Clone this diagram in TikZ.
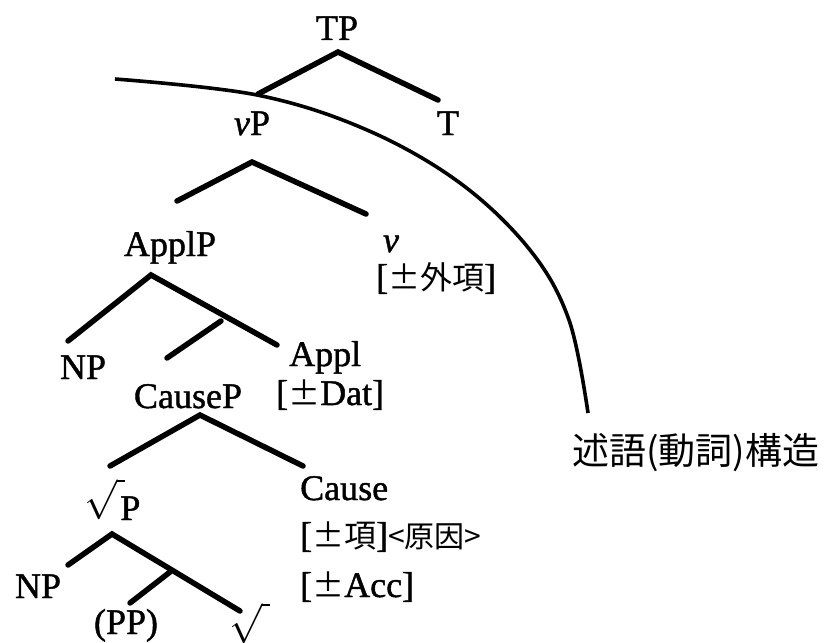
\documentclass[tikz,border=0pt]{standalone}
\usepackage{fontspec}
\usepackage{graphicx}
\setmainfont{Liberation Serif}[FakeBold=1.2]
\newfontfamily\jp{Noto Sans CJK JP}
\newcommand{\jpsm}{\jp\fontsize{32}{36}\selectfont}
\newcommand{\rad}{\scalebox{1.6}{$\sqrt{\vphantom{n}\hspace{5pt}}$}}
\begin{document}
\begin{tikzpicture}[x=1pt,y=-1pt,
  lbl/.style={inner sep=0pt, font=\fontsize{36}{40}\selectfont},
  br/.style={line width=5.5pt, line cap=round},
  arcline/.style={line width=3.6pt}]
\useasboundingbox (0,0) rectangle (826,642);

% labels
\node[lbl,anchor=base] (TP) at (337,40) {TP};
\node[lbl,anchor=base] (vP) at (252,135) {\textit{v}P};
\node[lbl,anchor=base] (T) at (448,135) {T};
\node[lbl,anchor=base] (ApplP) at (170,256) {ApplP};
\node[lbl,anchor=base] (v) at (391,252) {\textit{v}};
\node[lbl,anchor=base west] (vfeat) at (376,289) {[{\jpsm ±外項}]};
\node[lbl,anchor=base] (NPa) at (83,379) {NP};
\node[lbl,anchor=base west] (Appl) at (289,366) {Appl};
\node[lbl,anchor=base] (CauseP) at (188,408) {CauseP};
\node[lbl,anchor=base west] (Dat) at (276,405) {[{\jpsm ±}Dat]};
\node[lbl,anchor=base west] (Cause) at (300,500) {Cause};
\node[lbl,anchor=base west] (Cfeat) at (300,547) {[{\jpsm ±項}]{\jp\fontsize{30}{34}\selectfont <原因>}};
\node[lbl,anchor=base west] (Acc) at (300,597) {[{\jpsm ±}Acc]};
\node[lbl,anchor=base west] (rootP) at (84,520) {\raisebox{10pt}{\rad}\hspace{-5pt}P};
\node[lbl,anchor=base] (NPb) at (38,598) {NP};
\node[lbl,anchor=base] (PP) at (126,634) {(PP)};
\node[lbl,anchor=base west] (root) at (229,634) {\rad};
\node[anchor=base west,inner sep=0pt,font=\jp\fontsize{37}{42}\selectfont] (pred) at (572,464) {述語(動詞)構造};

% branch points
\coordinate (tpA) at (338,52);
\coordinate (tpL) at (258,94);
\coordinate (tpR) at (438,100);
\coordinate (vpA) at (252,162);
\coordinate (vpL) at (177,201);
\coordinate (vpR) at (366,214);
\coordinate (apA) at (151,275);
\coordinate (apL) at (68,341);
\coordinate (apR) at (277,345);
\coordinate (apM1) at (221,321);
\coordinate (apM2) at (167,358);
\coordinate (cpA) at (200,415);
\coordinate (cpL) at (110,466);
\coordinate (cpR) at (303,466);
\coordinate (rpA) at (112,534);
\coordinate (rpL) at (68,565);
\coordinate (rpR) at (240,611);
\coordinate (rpM1) at (170,572);
\coordinate (rpM2) at (130,603);

\draw[br] (tpL) -- (tpA) -- (tpR);
\draw[br] (vpL) -- (vpA) -- (vpR);
\draw[br] (apL) -- (apA) -- (apR);
\draw[br] (apM1) -- (apM2);
\draw[br] (cpL) -- (cpA) -- (cpR);
\draw[br] (rpL) -- (rpA) -- (rpR);
\draw[br] (rpM1) -- (rpM2);

% boundary curve
\coordinate (k0) at (115,79);
\coordinate (k1) at (257,95);
\coordinate (k2) at (367,130);
\coordinate (k3) at (460,183);
\coordinate (k4) at (530,250);
\coordinate (k5) at (569,320);
\coordinate (k6) at (588,413);
\draw[arcline] plot[smooth, tension=0.6] coordinates {(k0) (k1) (k2) (k3) (k4) (k5) (k6)};
\end{tikzpicture}
\end{document}
